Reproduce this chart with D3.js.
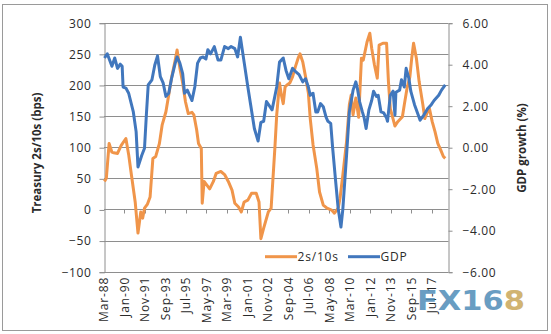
<!DOCTYPE html>
<html>
<head>
<meta charset="utf-8">
<script src="https://cdn.jsdelivr.net/npm/d3@7"></script>
<style>
  body { margin: 0; background: #fff; }
  svg text { font-family: "Open Sans", sans-serif; fill: #2b2b2b; }
</style>
</head>
<body>
<div id="chart"></div>
<script>
// 2s/10s Treasury spread (bps), monthly vertices
var spreadDates = ["1988-03","1988-05","1988-08","1988-11","1989-01","1989-05","1989-09","1990-02","1990-05","1990-08",
  "1990-12","1991-03","1991-06","1991-08","1991-10","1992-01","1992-04","1992-07","1992-10","1993-02",
  "1993-05","1993-09","1993-12","1994-03","1994-07","1994-09","1994-12","1995-03","1995-06","1995-09",
  "1996-01","1996-03","1996-06","1996-08","1996-11","1996-12","1997-02","1997-05","1997-08","1997-12",
  "1998-03","1998-08","1998-12","1999-04","1999-08","1999-11","2000-03","2000-06","2000-09","2001-01",
  "2001-05","2001-10","2002-01","2002-03","2002-06","2002-11","2003-02","2003-06","2003-08","2003-11",
  "2004-01","2004-03","2004-05","2004-07","2004-10","2005-01","2005-04","2005-07","2005-09","2005-12",
  "2006-03","2006-06","2006-08","2006-11","2007-03","2007-06","2007-10","2008-02","2008-07","2008-10",
  "2009-02","2009-04","2009-07","2009-11","2010-02","2010-04","2010-06","2010-09","2010-12","2011-03",
  "2011-05","2011-09","2011-12","2012-02","2012-05","2012-08","2012-10","2013-02","2013-06","2013-08",
  "2013-10","2014-03","2014-06","2014-11","2015-01","2015-04","2015-07","2015-09","2015-11","2016-02",
  "2016-05","2016-09","2016-11","2017-02","2017-04","2017-07","2017-10","2018-01","2018-04","2018-07",
  "2018-09"];
var spreadValues = [45,50,106,92,91,90,103,114,88,55,
  12,-38,-4,-14,2,8,20,82,85,106,
  136,157,184,211,240,256,227,203,173,154,
  156,152,128,106,98,10,45,39,33,45,
  58,61,56,45,31,10,4,-4,12,15,
  26,26,12,-47,-30,-4,2,98,152,203,
  184,170,197,200,203,213,229,243,250,237,
  213,187,146,104,66,28,7,2,-1,-6,
  2,18,55,109,168,184,152,179,148,243,
  240,269,283,259,232,211,264,267,267,205,
  162,134,141,149,168,195,213,243,267,243,
  205,168,146,157,162,141,125,106,96,85,
  82];

// GDP growth (%), right axis
var gdpDates = ["1988-03","1988-06","1988-11","1989-02","1989-05","1989-08","1989-10","1989-11","1990-02","1990-05",
  "1990-10","1991-01","1991-03","1991-07","1991-10","1991-12","1992-02","1992-06","1992-09","1992-12",
  "1993-03","1993-06","1993-09","1993-12","1994-03","1994-07","1994-09","1994-12","1995-03","1995-05",
  "1995-08","1995-11","1996-01","1996-04","1996-07","1996-10","1997-01","1997-04","1997-06","1997-09",
  "1998-01","1998-05","1998-08","1998-12","1999-04","1999-07","1999-11","2000-02","2000-05","2000-09",
  "2001-01","2001-04","2001-08","2001-12","2002-03","2002-06","2002-09","2002-12","2003-03","2003-08",
  "2003-11","2004-03","2004-06","2004-09","2005-01","2005-04","2005-08","2005-12","2006-03","2006-06",
  "2006-08","2006-11","2007-02","2007-04","2007-07","2007-10","2008-01","2008-03","2008-06","2008-08",
  "2008-11","2009-02","2009-05","2009-07","2009-11","2010-02","2010-06","2010-09","2010-11","2011-01",
  "2011-04","2011-06","2011-08","2011-11","2012-02","2012-04","2012-07","2012-09","2012-12","2013-03",
  "2013-06","2013-07","2013-10","2014-01","2014-03","2014-04","2014-08","2014-10","2015-01","2015-03",
  "2015-06","2015-08","2015-12","2016-04","2016-06","2016-10","2017-02","2017-06","2017-09","2018-02",
  "2018-05","2018-09"];
var gdpValues = [4.3,4.5,3.9,4.3,3.8,4.0,3.9,2.9,2.85,2.6,
  1.7,0.75,-0.95,-0.4,-0.05,1.55,3.0,3.25,3.95,4.4,
  3.4,3.1,2.45,2.6,3.3,4.05,4.35,4.05,3.55,2.6,
  2.75,2.45,2.25,2.9,4.05,4.3,4.35,4.25,4.7,4.5,
  4.85,4.2,4.2,4.85,4.75,4.85,4.75,4.35,5.3,4.1,
  2.9,2.05,0.9,0.3,1.2,1.25,2.2,2.0,1.8,2.9,
  4.1,4.3,3.7,3.3,3.8,3.65,3.5,3.15,3.3,2.9,
  2.5,2.6,1.7,1.7,2.1,1.95,1.45,1.25,1.15,0.0,
  -1.5,-2.95,-3.85,-3.0,-0.4,1.7,2.75,3.15,2.75,2.2,
  1.7,1.4,0.9,1.8,2.25,2.7,2.45,2.5,1.7,1.65,
  1.4,1.25,2.5,2.7,1.55,2.65,2.75,3.25,2.9,3.8,
  3.3,2.7,2.05,1.55,1.3,1.55,1.85,2.05,2.25,2.5,
  2.75,3.0];

var xTickLabels = ["Mar-88","Jan-90","Nov-91","Sep-93","Jul-95","May-97","Mar-99","Jan-01","Nov-02",
  "Sep-04","Jul-06","May-08","Mar-10","Jan-12","Nov-13","Sep-15","Jul-17"];
var leftTicks = [-100, -50, 0, 50, 100, 150, 200, 250, 300];
var rightTicks = [-6, -4, -2, 0, 2, 4, 6];
var seriesNames = ["2s/10s", "GDP"];

var width = 551, height = 334;
var plot = {left: 104, right: 448.5, top: 22.7, bottom: 271.7};
var orange = "#f0954a", blue = "#4177bd", grid = "#8e8e8e";

var svg = d3.select("#chart")
    .append("svg")
    .attr("width", width)
    .attr("height", height);

svg.append("rect")
    .attr("x", 2.5).attr("y", 4.5)
    .attr("width", 545).attr("height", 326)
    .attr("fill", "#fff")
    .attr("stroke", "#9a9a9a");

// monthly category axis, Mar-88 .. Dec-18
var start = new Date(1988, 2, 1);
var parseMonth = d3.timeParse("%Y-%m");
var parseLabel = d3.timeParse("%b-%y");
function monthIndex(dt) { return d3.timeMonth.count(start, dt); }

var x = d3.scaleLinear().domain([-0.5, 369.5]).range([plot.left, plot.right]);
var yLeft = d3.scaleLinear().domain([-100, 300]).range([plot.bottom, plot.top]);
var yRight = d3.scaleLinear().domain([-6, 6]).range([plot.bottom, plot.top]);

// gridlines
svg.append("g")
    .selectAll("line")
    .data(leftTicks)
    .enter()
    .append("line")
    .attr("x1", plot.left)
    .attr("x2", plot.right)
    .attr("y1", function (d) { return Math.round(yLeft(d)) + 0.5; })
    .attr("y2", function (d) { return Math.round(yLeft(d)) + 0.5; })
    .attr("stroke", grid)
    .attr("stroke-width", 1);

// left axis
var leftAxis = svg.append("g")
    .attr("transform", "translate(" + (plot.left + 0.5) + ",0.5)")
    .call(d3.axisLeft(yLeft).tickValues(leftTicks).tickSize(5).tickPadding(8));
// right axis
var rightAxis = svg.append("g")
    .attr("transform", "translate(" + (plot.right) + ",0.5)")
    .call(d3.axisRight(yRight).tickValues(rightTicks).tickSize(4).tickPadding(10)
        .tickFormat(d3.format(".2f")));

[leftAxis, rightAxis].forEach(function (a) {
    a.select(".domain").attr("stroke", grid);
    a.selectAll(".tick line").attr("stroke", grid);
    a.selectAll("text")
        .attr("fill", "#2b2b2b")
        .style("font-size", "12px")
        .style("letter-spacing", "0.6px")
        .style("font-family", "'Open Sans', sans-serif");
});

// category axis sits on the zero line
var zeroY = Math.round(yLeft(0)) + 0.5;
var tickIdx = xTickLabels.map(function (l) { return monthIndex(parseLabel(l)); });
svg.append("g")
    .selectAll("line")
    .data(tickIdx.slice(1))
    .enter()
    .append("line")
    .attr("x1", function (d) { return Math.round(x(d - 0.5)) + 0.5; })
    .attr("x2", function (d) { return Math.round(x(d - 0.5)) + 0.5; })
    .attr("y1", zeroY)
    .attr("y2", zeroY + 4)
    .attr("stroke", grid);

svg.append("g")
    .selectAll("text")
    .data(xTickLabels)
    .enter()
    .append("text")
    .attr("transform", function (d, i) {
        return "translate(" + (x(tickIdx[i]) + 4) + "," + (plot.bottom + 5) + ") rotate(-90)";
    })
    .attr("text-anchor", "end")
    .style("font-size", "12px")
    .style("letter-spacing", "0.9px")
    .text(function (d) { return d; });

// series
var spread = spreadDates.map(function (d, i) { return {m: monthIndex(parseMonth(d)), v: spreadValues[i]}; });
var gdp = gdpDates.map(function (d, i) { return {m: monthIndex(parseMonth(d)), v: gdpValues[i]}; });

svg.append("path")
    .datum(spread)
    .attr("fill", "none")
    .attr("stroke", orange)
    .attr("stroke-width", 3)
    .attr("stroke-linejoin", "round")
    .attr("d", d3.line()
        .x(function (d) { return x(d.m); })
        .y(function (d) { return yLeft(d.v); }));

svg.append("path")
    .datum(gdp)
    .attr("fill", "none")
    .attr("stroke", blue)
    .attr("stroke-width", 3)
    .attr("stroke-linejoin", "round")
    .attr("d", d3.line()
        .x(function (d) { return x(d.m); })
        .y(function (d) { return yRight(d.v); }));

// legend
var legendY = 256.7;
var legend = svg.append("g");
[[265, orange], [348, blue]].forEach(function (p, i) {
    legend.append("line")
        .attr("x1", p[0]).attr("x2", p[0] + 32)
        .attr("y1", legendY).attr("y2", legendY)
        .attr("stroke", p[1])
        .attr("stroke-width", 3);
    legend.append("text")
        .attr("x", p[0] + 32.5)
        .attr("y", legendY + 4.5)
        .style("font-size", "12px")
        .style("letter-spacing", "0.8px")
        .text(seriesNames[i]);
});

// axis titles
svg.append("text")
    .attr("transform", "translate(41,153) rotate(-90)")
    .attr("text-anchor", "middle")
    .style("font-size", "11.5px")
    .style("font-weight", "bold")
    .text("Treasury 2s/10s (bps)");

svg.append("text")
    .attr("transform", "translate(526,148) rotate(-90)")
    .attr("text-anchor", "middle")
    .style("font-size", "11.5px")
    .style("font-weight", "bold")
    .text("GDP growth (%)");

// watermark
var mark = svg.append("text")
    .attr("x", 417)
    .attr("y", 310)
    .attr("textLength", 108)
    .attr("lengthAdjust", "spacingAndGlyphs")
    .style("font-family", "'DejaVu Sans', sans-serif")
    .style("font-size", "27px")
    .style("font-weight", "bold")
    .style("opacity", 0.85);
mark.append("tspan").attr("fill", "#4f8db8").text("FX16");
mark.append("tspan").attr("fill", "#c9a75a").text("8");
</script>
</body>
</html>
